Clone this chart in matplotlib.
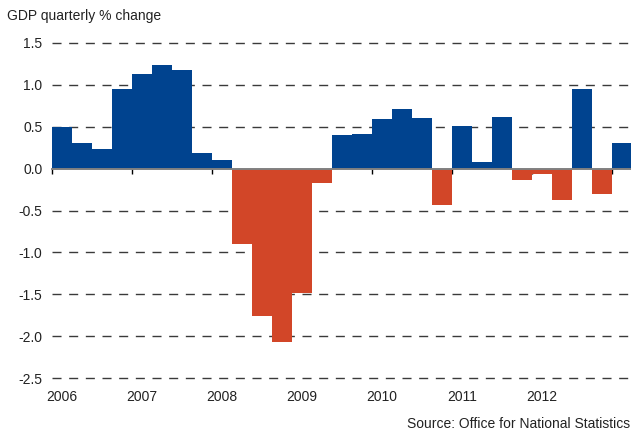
import matplotlib
matplotlib.use("Agg")
import matplotlib.pyplot as plt
import matplotlib.transforms as mtransforms
import numpy as np

plt.rcParams['font.family'] = ['Liberation Sans', 'DejaVu Sans']

# quarterly GDP growth, 2006 Q1 to 2013 Q1
quarters = ['2006 Q1', '2006 Q2', '2006 Q3', '2006 Q4',
            '2007 Q1', '2007 Q2', '2007 Q3', '2007 Q4',
            '2008 Q1', '2008 Q2', '2008 Q3', '2008 Q4',
            '2009 Q1', '2009 Q2', '2009 Q3', '2009 Q4',
            '2010 Q1', '2010 Q2', '2010 Q3', '2010 Q4',
            '2011 Q1', '2011 Q2', '2011 Q3', '2011 Q4',
            '2012 Q1', '2012 Q2', '2012 Q3', '2012 Q4',
            '2013 Q1']
growth = [0.50, 0.31, 0.23, 0.95,
          1.13, 1.24, 1.18, 0.19,
          0.10, -0.90, -1.76, -2.07,
          -1.48, -0.17, 0.40, 0.41,
          0.59, 0.71, 0.61, -0.44,
          0.51, 0.08, 0.62, -0.13,
          -0.07, -0.38, 0.95, -0.30,
          0.31]
years = ['2006', '2007', '2008', '2009', '2010', '2011', '2012']
yticks = [1.5, 1.0, 0.5, 0.0, -0.5, -1.0, -1.5, -2.0, -2.5]

blue = '#00438f'
red = '#d24628'

fig = plt.figure(figsize=(6.31, 4.30), dpi=100)
ax = fig.add_axes([52 / 631, 52 / 430, 580 / 631, 335 / 430])

x = np.arange(len(growth))
vals = np.array(growth)
colors = [blue if v >= 0 else red for v in vals]
ax.bar(x, vals, width=1.0, align='edge', color=colors, linewidth=0, zorder=2)

ax.set_xlim(0, len(growth))
ax.set_ylim(-2.5, 1.5)

# dashed gridlines
for y in yticks:
    if y == 0:
        continue
    ax.axhline(y, color='#3a3a3a', lw=1.0, ls=(0, (6.5, 5.5)), zorder=1, clip_on=False)

for s in ['top', 'right', 'left']:
    ax.spines[s].set_visible(False)
ax.spines['bottom'].set_position(('data', 0))
ax.spines['bottom'].set_color('#808080')
ax.spines['bottom'].set_linewidth(1.4)
ax.spines['bottom'].set_zorder(3)

# year boundary ticks on the zero line
ax.set_xticks(np.arange(0, len(growth), 4))
ax.tick_params(axis='x', direction='out', length=3.5, width=1, color='black',
               labelbottom=False)

ax.set_yticks(yticks)
ax.set_yticklabels(['%.1f' % v for v in yticks])
ax.tick_params(axis='y', length=0, pad=7, labelsize=10, labelcolor='#222222')

# year labels under the plot, centred on each Q1 bar
trans = mtransforms.blended_transform_factory(ax.transData, ax.transAxes)
for i, yr in enumerate(years):
    ax.text(i * 4 + 0.5, -0.058, yr, transform=trans, ha='center', va='center',
            fontsize=10, color='#222222')

fig.text(7 / 631, 1 - 16 / 430, 'GDP quarterly % change', ha='left', va='center',
         fontsize=10, color='#222222')
fig.text(630 / 631, 1 - 424 / 430, 'Source: Office for National Statistics',
         ha='right', va='center', fontsize=10, color='#222222')

fig.savefig('out.png', dpi=100)
